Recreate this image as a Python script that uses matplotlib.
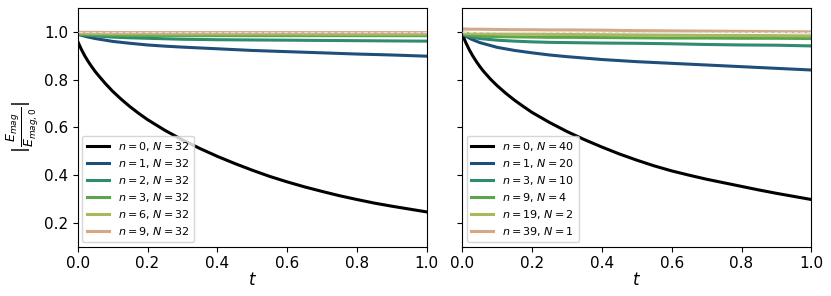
import numpy as np
import matplotlib
matplotlib.use("Agg")
import matplotlib.pyplot as plt

# ---- data ----
t = [0.0, 0.025, 0.05, 0.1, 0.15, 0.2, 0.25, 0.3, 0.4, 0.5, 0.6, 0.7, 0.8, 0.9, 1.0]
t_fine = [0.0, 0.01, 0.02, 0.03, 0.04, 0.05, 0.06, 0.08, 0.1, 0.125, 0.15, 0.175, 0.2,
          0.25, 0.3, 0.35, 0.4, 0.45, 0.5, 0.55, 0.6, 0.65, 0.7, 0.75, 0.8, 0.85, 0.9, 0.95, 1.0]

left_labels = [r"$n=0$, $N=32$", r"$n=1$, $N=32$", r"$n=2$, $N=32$",
               r"$n=3$, $N=32$", r"$n=6$, $N=32$", r"$n=9$, $N=32$"]
left_n0 = [0.96, 0.928, 0.90, 0.876, 0.854, 0.834, 0.816, 0.782, 0.751, 0.717, 0.686, 0.658, 0.632,
           0.587, 0.547, 0.511, 0.478, 0.448, 0.42, 0.394, 0.371, 0.35, 0.331, 0.313, 0.297,
           0.282, 0.269, 0.257, 0.245]
left_n1 = [0.99, 0.98, 0.972, 0.96, 0.952, 0.945, 0.940, 0.936, 0.929, 0.922, 0.917, 0.912, 0.907, 0.903, 0.898]
left_n2 = [0.99, 0.986, 0.983, 0.978, 0.975, 0.973, 0.971, 0.969, 0.967, 0.966, 0.965, 0.964, 0.963, 0.962, 0.961]
left_n3 = [0.99, 0.988, 0.987, 0.986, 0.985, 0.985, 0.985, 0.984, 0.984, 0.984, 0.984, 0.984, 0.984, 0.984, 0.984]
left_n6 = [0.995, 0.994, 0.993, 0.992, 0.992, 0.992, 0.991, 0.991, 0.991, 0.991, 0.991, 0.990, 0.990, 0.990, 0.990]
left_n9 = [0.998, 0.998, 0.998, 0.997, 0.997, 0.997, 0.997, 0.997, 0.997, 0.997, 0.997, 0.997, 0.997, 0.997, 0.997]

right_labels = [r"$n=0$, $N=40$", r"$n=1$, $N=20$", r"$n=3$, $N=10$",
                r"$n=9$, $N=4$", r"$n=19$, $N=2$", r"$n=39$, $N=1$"]
right_n0 = [0.99, 0.955, 0.925, 0.899, 0.876, 0.855, 0.836, 0.803, 0.774, 0.742, 0.713, 0.687, 0.662,
            0.62, 0.582, 0.548, 0.517, 0.488, 0.462, 0.438, 0.417, 0.399, 0.382, 0.367, 0.352,
            0.337, 0.323, 0.31, 0.297]
right_n1 = [0.99, 0.97, 0.955, 0.935, 0.922, 0.912, 0.903, 0.896, 0.884, 0.875, 0.868, 0.861, 0.854, 0.847, 0.840]
right_n3 = [0.99, 0.978, 0.972, 0.965, 0.961, 0.958, 0.956, 0.955, 0.953, 0.952, 0.950, 0.947, 0.945, 0.944, 0.941]
right_n9 = [0.99, 0.985, 0.982, 0.980, 0.979, 0.978, 0.977, 0.977, 0.976, 0.975, 0.974, 0.974, 0.973, 0.973, 0.972]
right_n19 = [0.995, 0.993, 0.992, 0.991, 0.990, 0.990, 0.989, 0.989, 0.988, 0.987, 0.986, 0.985, 0.985, 0.984, 0.983]
right_n39 = [1.012, 1.011, 1.011, 1.010, 1.009, 1.009, 1.008, 1.008, 1.007, 1.005, 1.004, 1.003, 1.002, 1.001, 1.000]

colors = ["#000000", "#1f4e7a", "#2f8a70", "#5aa64c", "#a9b85c", "#d2a886"]

fig = plt.figure(figsize=(8.31, 2.96), dpi=100)
W, H = 831, 296
axL = fig.add_axes([77.7 / W, (H - 246.5) / H, 349 / W, 238.5 / H])
axR = fig.add_axes([462.3 / W, (H - 246.5) / H, 349 / W, 238.5 / H], sharey=axL)

for ax, series, labels in [
    (axL, [left_n0, left_n1, left_n2, left_n3, left_n6, left_n9], left_labels),
    (axR, [right_n0, right_n1, right_n3, right_n9, right_n19, right_n39], right_labels),
]:
    for i, (ys, c, lab) in enumerate(zip(series, colors, labels)):
        xs = t_fine if i == 0 else t
        ax.plot(xs, ys, color=c, lw=2.2, label=lab)
    ax.axhline(1.0, color="#dddddd", ls="--", lw=0.9, zorder=5)
    ax.set_xlim(0, 1)
    ax.set_ylim(0.1, 1.1)
    ax.set_xticks([0, 0.2, 0.4, 0.6, 0.8, 1.0])
    ax.set_yticks([0.2, 0.4, 0.6, 0.8, 1.0])
    ax.tick_params(labelsize=11)
    ax.set_xlabel(r"$t$", fontsize=12, labelpad=0)
    ax.legend(loc="lower left", fontsize=8, handlelength=2.0, borderaxespad=0.4,
              labelspacing=0.35)

axR.tick_params(labelleft=False)
axL.set_ylabel(r"$|\frac{E_{mag}}{E_{mag,0}}|$", fontsize=13, labelpad=2)

fig.savefig("out.png", dpi=100)
